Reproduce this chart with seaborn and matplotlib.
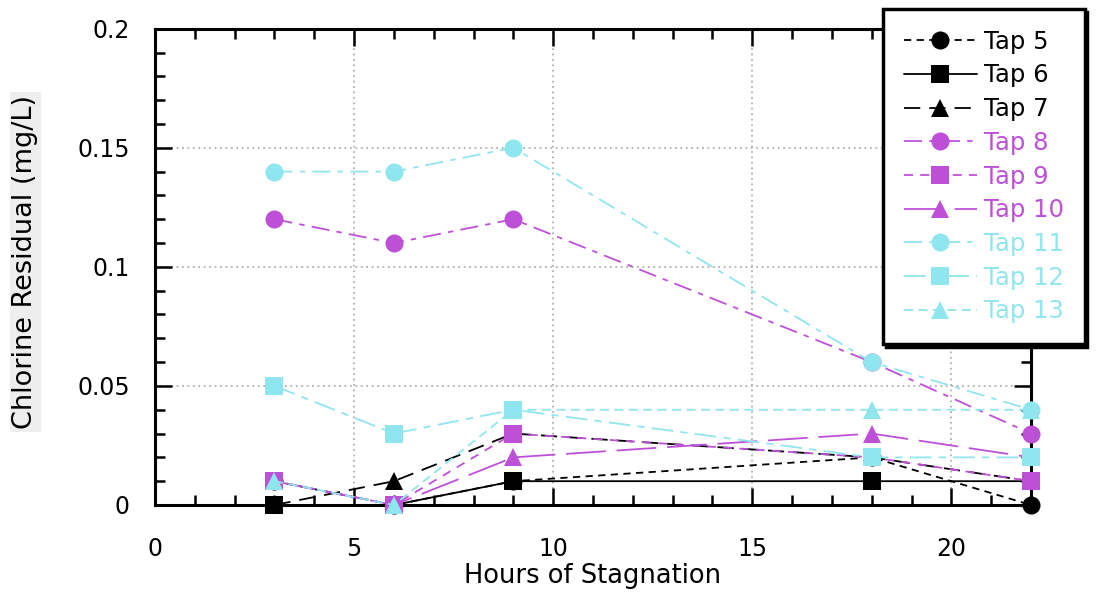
import numpy as np
import pandas as pd
import matplotlib
matplotlib.use("Agg")
import matplotlib.pyplot as plt
from matplotlib.ticker import MultipleLocator, FixedLocator, FixedFormatter
import seaborn as sns

sns.set_style("ticks")
plt.rcParams['font.family'] = ['DejaVu Sans']
plt.rcParams['text.color'] = 'black'
plt.rcParams['axes.labelcolor'] = 'black'

# ---------------- data ----------------
hours = [3, 6, 9, 18, 22]

tap5 = [0.01, 0.00, 0.01, 0.02, 0.00]
tap6 = [0.00, 0.00, 0.01, 0.01, 0.01]
tap7 = [0.00, 0.01, 0.03, 0.02, 0.01]
tap8 = [0.12, 0.11, 0.12, 0.06, 0.03]
tap9 = [0.01, 0.00, 0.03, 0.02, 0.01]
tap10 = [0.01, 0.00, 0.02, 0.03, 0.02]
tap11 = [0.14, 0.14, 0.15, 0.06, 0.04]
tap12 = [0.05, 0.03, 0.04, 0.02, 0.02]
tap13 = [0.01, 0.00, 0.04, 0.04, 0.04]

tap_names = ["Tap 5", "Tap 6", "Tap 7", "Tap 8", "Tap 9",
             "Tap 10", "Tap 11", "Tap 12", "Tap 13"]
x_ticks = [0, 5, 10, 15, 20]
y_ticks = [0, 0.05, 0.1, 0.15, 0.2]
y_tick_labels = ["0", "0.05", "0.1", "0.15", "0.2"]

# ---------------- styles ----------------
black = "black"
magenta = "#BE50D8"
cyan = "#8FE6EE"

series = [tap5, tap6, tap7, tap8, tap9, tap10, tap11, tap12, tap13]
colors = [black, black, black, magenta, magenta, magenta, cyan, cyan, cyan]
markers = ["o", "s", "^"] * 3
dashes = [(0, (4, 3)), "-", (0, (9, 5)),
          (0, (10, 4, 3, 4)), (0, (5, 4)), (0, (22, 6)),
          (0, (10, 4, 3, 4)), (0, (12, 4, 4, 4)), (0, (5, 3))]
zorders = [3, 4, 5, 6, 7, 8, 10, 11, 9]

fig = plt.figure(figsize=(10.97, 5.93), dpi=100)
ax = fig.add_axes([155 / 1097, 1 - 505 / 593, 876 / 1097, 476.3 / 593])

handles = []
for name, vals, col, mk, ls, z in zip(tap_names, series, colors, markers, dashes, zorders):
    df = pd.DataFrame({"hours": hours, "cl": vals})
    sns.lineplot(data=df, x="hours", y="cl", ax=ax, color=col, marker=mk,
                 linestyle=ls, linewidth=1.3, markersize=13,
                 markeredgewidth=0, clip_on=False, zorder=z, label=name)
    handles.append(ax.lines[-1])

# ---------------- axes ----------------
ax.set_xlim(0, 22)
ax.set_ylim(0, 0.2)
ax.xaxis.set_major_locator(FixedLocator(x_ticks))
ax.xaxis.set_minor_locator(MultipleLocator(1))
ax.yaxis.set_major_locator(FixedLocator(y_ticks))
ax.yaxis.set_major_formatter(FixedFormatter(y_tick_labels))
ax.yaxis.set_minor_locator(MultipleLocator(0.01))

ax.tick_params(which="both", direction="in", top=True, right=True,
               width=1.8, colors="black", labelcolor="black")
ax.tick_params(which="major", length=12, labelsize=17)
ax.tick_params(axis="y", which="major", pad=18)
ax.tick_params(axis="x", which="major", pad=23)
ax.tick_params(which="minor", length=7)
for sp in ax.spines.values():
    sp.set_linewidth(2.2)
    sp.set_color("black")

ax.grid(True, which="major", linestyle=(0, (1, 2)), color="#b0b0b0", linewidth=1.3)
ax.set_axisbelow(True)

ax.set_xlabel("Hours of Stagnation", fontsize=18.5, color="black")
ax.xaxis.set_label_coords(0.5, -0.122)
ax.set_ylabel("Chlorine Residual (mg/L)", fontsize=19.5, color="black",
              bbox=dict(facecolor="#eeeeee", edgecolor="none", pad=2))
ax.yaxis.set_label_coords(-0.133, 0.51)

leg = ax.legend(handles=handles, labels=tap_names, loc="upper left",
                bbox_to_anchor=(883 / 1097, 1 - 9 / 593),
                bbox_transform=fig.transFigure, borderaxespad=0,
                fontsize=17.5, frameon=True, fancybox=False, framealpha=1,
                edgecolor="black", handlelength=3.0, handletextpad=0.3,
                labelspacing=0.4, borderpad=0.85,
                shadow={"color": "black", "alpha": 1})
leg.get_frame().set_linewidth(2.5)
leg.set_zorder(20)
for txt, col in zip(leg.get_texts(), colors):
    txt.set_color(col)

fig.savefig("out.png", dpi=100)
